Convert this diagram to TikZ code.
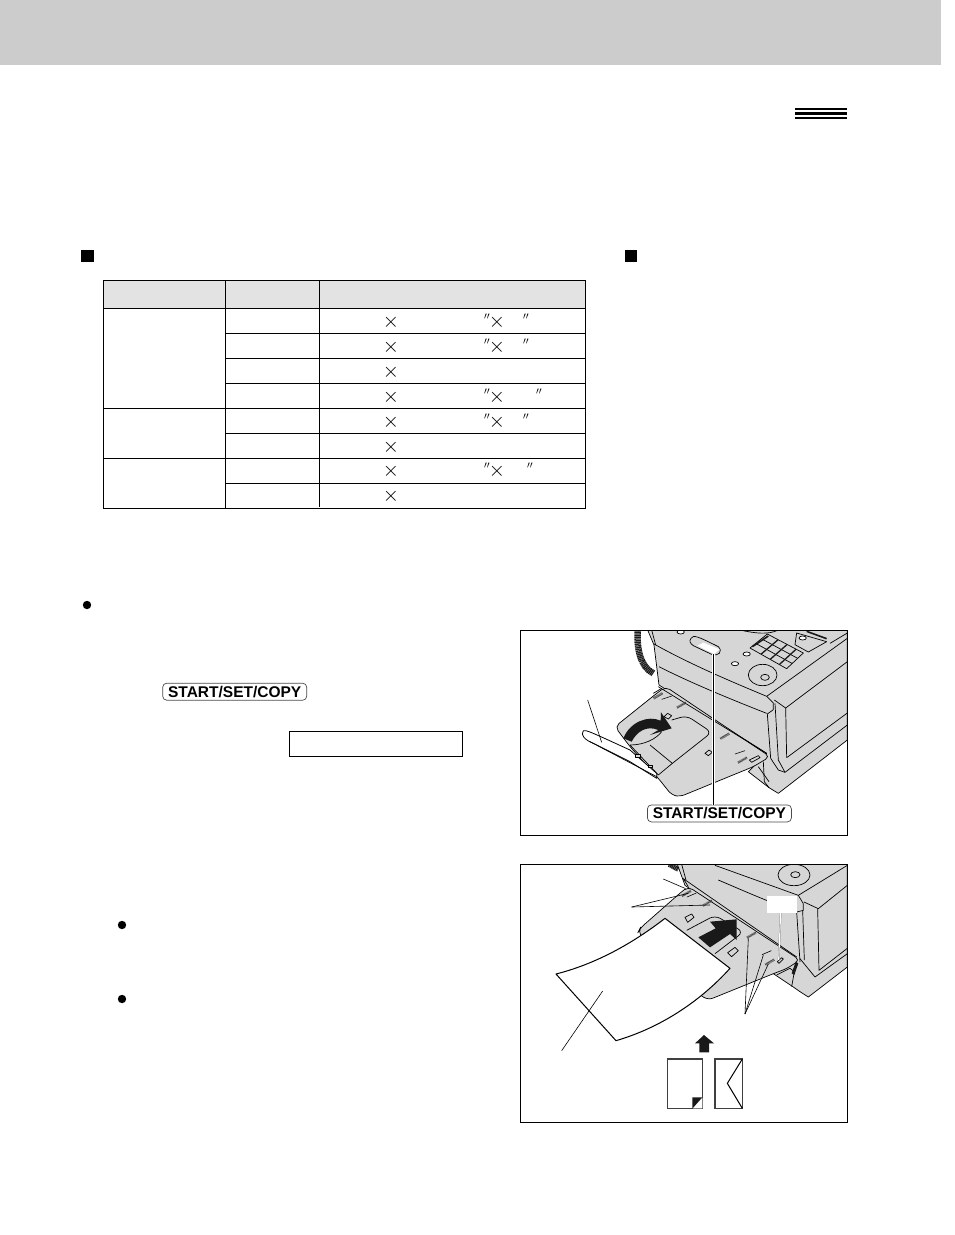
\documentclass[tikz,border=0pt]{standalone}
\usepackage{fontspec}
\setmainfont{Liberation Sans}
\usetikzlibrary{calc}
\definecolor{band}{gray}{0.80}
\definecolor{headcell}{gray}{0.89}
\definecolor{body}{gray}{0.84}
\definecolor{dark}{gray}{0.10}
\tikzset{
  >=latex,
}
\tikzstyle{panel}=[draw=black,line width=1pt]
\tikzstyle{rule}=[line width=1pt]
\tikzstyle{outline}=[line width=.7pt,line join=round]
\tikzstyle{shell}=[outline,fill=body]
\tikzstyle{leader}=[line width=.6pt]
\tikzstyle{hatch}=[line width=2.4pt,black!75,dash pattern=on .6pt off .6pt]
\tikzstyle{keycap}=[draw=black!70,line width=.7pt,rounded corners=4pt,minimum width=144pt,minimum height=17pt,inner sep=0pt,font=\fontsize{15.5}{15.5}\selectfont\bfseries]
\tikzstyle{crossmark}=[inner sep=0pt,font=\fontsize{20.74}{20.74}\selectfont]
\tikzstyle{inchmark}=[inner sep=0pt,font=\fontsize{14.4}{14.4}\selectfont]
\begin{document}
\begin{tikzpicture}[x=1pt,y=-1pt]
  \useasboundingbox (0,0) rectangle (954,1235);
  \fill[white] (0,0) rectangle (954,1235);
  \fill[band] (0,0) rectangle (941,65);
  % top right rule
  \draw[line width=1.2pt] (795,109)--(847,109);
  \draw[line width=3pt] (795,113.5)--(847,113.5);
  \draw[line width=2.2pt] (795,117.8)--(847,117.8);
  % squares and bullets
  \fill (81,249.5) rectangle (93.5,262);
  \fill (624.5,249.5) rectangle (637,262);
  \fill (87,605) circle (4.2);
  \fill (122,925) circle (4.2);
  \fill (122,999) circle (4.2);
  % table
  \fill[headcell] (103.5,280.5) rectangle (585,308.5);
  \draw[rule] (103.5,280.5) rectangle (585,508.5);
  \draw[rule] (103.5,308.5)--(585,308.5);
  \draw[rule] (225.5,333.5)--(585,333.5);
  \draw[rule] (225.5,358.5)--(585,358.5);
  \draw[rule] (225.5,383.5)--(585,383.5);
  \draw[rule] (103.5,408.5)--(585,408.5);
  \draw[rule] (225.5,433.5)--(585,433.5);
  \draw[rule] (103.5,458.5)--(585,458.5);
  \draw[rule] (225.5,483.5)--(585,483.5);
  \draw[rule] (225.5,280.5)--(225.5,508.5);
  \draw[rule] (319.5,280.5)--(319.5,507);
  \foreach \n/\y in {1/322,2/347,3/372,4/397,5/422,6/447,7/471.5,8/496.5}
    \node[crossmark] (cross\n) at (391,\y) {$\times$};
  \foreach \n/\y/\xb in {1/322/526,2/347/526,4/397/539,5/422/526,7/471.5/530}{
    \node[crossmark] (second\n) at (497,\y) {$\times$};
    \node[inchmark] (inch\n) at (487,\y-3) {$''$};
    \node[inchmark] (feet\n) at (\xb,\y-3) {$''$};
  }
  % display box and key
  \draw[panel] (289.5,731.5) rectangle (462.5,756.5);
  \node[keycap] (startkey) at (234.7,691.7) {START/SET/COPY};
  % first picture
  \begin{scope}[shift={(515,625)},scale=1/3]
    \begin{scope}
    \clip (17,15) rectangle (997,630);
    % cord
    \draw[line width=6.5pt,dark,dash pattern=on 1.2pt off .5pt] (368,15)..controls (365,70) and (375,125) .. (415,145);
    % body
    \draw[shell] (398,15)--(417,60)--(432,180)--(755,385)--(700,440)--(762,488)--(790,505)--(997,345)--(997,15)--cycle;
    \draw[outline] (417,57)..controls (530,120) and (650,170) .. (755,214)--(997,40);
    \draw[outline] (755,214)--(775,234)--(775,254)--(757,267)--(767,400);
    \draw[outline] (778,225)--(812,249)--(997,110);
    \draw[outline] (812,249)--(815,398)--(997,264);
    \draw[outline] (780,235)--(790,405)--(810,442)--(997,300);
    \draw[outline] (767,400)--(790,435)--(810,442);
    \draw[outline] (755,265)..controls (640,220) and (520,170) .. (432,125);
    \draw[outline] (410,15)--(422,60);
    \draw[outline] (745,410)--(748,470)--(762,488);
    \draw[outline] (730,425)--(762,470);
    % keypad and dial
    \draw[outline] (705,69)--(757,27)--(865,84)--(815,131)--cycle;
    \foreach \s in {.33,.66}
      \draw[outline] ($(705,69)!\s!(757,27)$)--($(815,131)!\s!(865,84)$);
    \foreach \p/\q in {.3/.3,.55/.55,.8/.8}
      \draw[line width=1.3pt,dark] ($(705,69)!\p!(815,131)$)--($(757,27)!\q!(865,84)$);
    \draw[line width=1.6pt,dark] (712,65)--(760,33);
    \draw[outline] (743,150) ellipse (43 and 32);
    \draw[outline] (750,157) ellipse (13 and 9);
    \foreach \x/\y in {660/116,695/87,863/39,497/21}
      \draw[outline,fill=white] (\x,\y) ellipse (11 and 6);
    \draw[outline] (528,40)..controls (535,28) and (550,35) .. (610,65)..controls (625,80) and (610,95) .. (590,88)--(535,62)..controls (525,55) and (522,48) .. cycle;
    \draw[outline] (845,24)--(935,50)--(880,81)--(840,59)--cycle;
    \draw[line width=1.6pt,dark] (875,19)--(935,41);
    \draw[outline] (675,15)..controls (720,25) and (760,30) .. (790,15);
    \draw[outline] (945,55)--(997,24);
    \fill[white] (548,62)--(565,53)--(614,73)--(597,87)--cycle;
    % tray
    \draw[shell,rounded corners=5pt] (300,305)--(425,205)--(452,185)--(765,395)--(715,425)--(495,515)--(470,510)--(430,460)--(345,365)--cycle;
    \draw[outline] (430,185)--(755,385);
    \draw[outline] (415,205)--(440,190);
    \draw[outline,rounded corners=6pt] (470,285)--(515,272)--(590,322)--(472,415)--(430,450);
    \draw[outline] (405,360)--(472,415);
    \draw[outline] (345,360)--(430,450);
    \draw[outline] (345,360)..controls (390,360) and (425,340) .. (440,320);
    % folded flap
    \draw[line width=.8pt,line join=round,fill=white] (205,317)..controls (215,315) and (225,320) .. (345,375)--(425,445)--(425,460)--(345,410)--(235,355)..controls (210,345) and (195,330) .. cycle;
    \draw[outline] (225,350)--(425,455);
    \foreach \x/\y in {368/392,406/424}
      \draw[outline,fill=body] (\x-7,\y-4) rectangle (\x+7,\y+4);
    % marks on the tray
    \foreach \x/\y in {430/212,500/240,630/333,683/405}
      \draw[hatch] (\x-14,\y+8)--(\x+14,\y-8);
    \foreach \x/\y in {455/218,675/382}
      \draw[leader] (\x-15,\y+5)--(\x+15,\y-5);
    \draw[outline] (570,385)--(582,375)--(592,382)--(580,392)--cycle;
    \draw[outline] (447,275)--(458,265)--(470,272)--(460,282)--cycle;
    \draw[outline] (703,405)--(730,392)--(735,398)--(710,412)--cycle;
    % curved arrow
    \fill[dark] (325,340)..controls (345,290) and (400,270) .. (437,287)--(438,262)--(470,310)--(405,330)--(430,315)..controls (395,300) and (365,320) .. (350,350)--cycle;
    % leaders
    \draw[leader] (218,225)--(260,352);
    \coordinate (startlabel) at (595,87);
    \end{scope}
  \end{scope}
  \draw[panel] (520.7,630) rectangle (847.3,835);
  \node[keycap,fill=white] (copykey) at (719.4,813.4) {START/SET/COPY};
  \draw[white,line width=2.6pt] (startlabel)--(startlabel|-copykey.north);
  \draw[line width=1pt] (startlabel)--(startlabel|-copykey.north);
  % second picture
  \begin{scope}[shift={(515,860)},scale=1/3]
    \begin{scope}
    \clip (17,13) rectangle (997,787);
    \draw[line width=5pt,dark,dash pattern=on 1.2pt off .5pt] (462,13)--(490,28);
    \draw[shell] (487,13)--(510,76)--(845,300)--(775,341)--(835,381)--(855,395)--(880,411)--(997,321)--(997,13)--cycle;
    \draw[outline] (600,16)--(850,106)--(997,16);
    \draw[outline] (850,106)--(865,131)--(865,151)--(845,156)--(855,306);
    \draw[outline] (867,126)--(910,146)--(997,76);
    \draw[outline] (908,146)--(912,331)--(997,265);
    \draw[outline] (863,151)--(868,300);
    \draw[outline] (855,296)--(900,351)--(997,281);
    \draw[outline] (845,156)..controls (760,125) and (680,90) .. (610,60);
    \draw[outline] (500,13)--(513,60);
    \draw[outline] (837,45) ellipse (48 and 32);
    \draw[outline] (841,44) ellipse (14 and 9);
    % tray
    \draw[shell,rounded corners=5pt] (370,215)--(375,205)--(500,95)--(520,80)--(855,300)--(815,326)--(775,341)--(580,420)--(555,405)--(420,300)--cycle;
    \draw[outline] (505,56)--(845,291);
    \draw[outline] (520,80)--(505,56);
    \draw[outline,rounded corners=6pt] (515,211)--(600,166)--(685,216)--(600,281);
    \draw[outline] (510,172)--(530,162)--(537,172)--(518,187)--cycle;
    \draw[outline] (638,278)--(660,262)--(670,272)--(650,290)--cycle;
    \foreach \x/\y in {515/100,578/129,710/225,765/306}
      \draw[hatch] (\x-14,\y+8)--(\x+14,\y-8);
    \foreach \x/\y in {530/105,755/278}
      \draw[leader] (\x-14,\y+6)--(\x+14,\y-6);
    \draw[outline] (785,345)--(825,325)--(838,335)--(830,380);
    \fill[dark] (830,340)--(842,305)--(850,310)--(838,345)--cycle;
    \draw[outline] (787,305)--(800,293)--(805,297)--(792,310)--cycle;
    % paper
    \draw[line width=1pt,fill=white,line join=round] (450,175)..controls (340,260) and (230,315) .. (123,342)--(303,542)..controls (430,505) and (550,430) .. (645,325)--cycle;
    % arrow on tray
    \fill[dark] (550,232)--(602,205)--(585,185)--(665,178)--(665,240)--(645,222)--(585,262)--cycle;
    % leaders
    \draw[leader] (445,57)--(510,85);
    \coordinate (guidehub) at (350,141);
    \draw[leader] (guidehub)--(520,100);
    \draw[leader] (guidehub)--(585,135);
    \coordinate (sidehub) at (690,462);
    \draw[leader] (sidehub)--(700,235);
    \draw[leader] (sidehub)--(745,285);
    \draw[leader] (sidehub)--(760,312);
    \draw[leader] (263,393)--(140,572);
    \draw[black!60,line width=1.6pt] (797,158)--(791,300);
    \draw[white,line width=1.1pt] (797,158)--(791,300);
    \fill[white] (755,107) rectangle (845,158);
    % direction arrow and icons
    \fill[dark] (540,550)--(567,525)--(597,550)--(582,550)--(582,577)--(553,577)--(553,550)--cycle;
    \draw[line width=1.2pt,black!75] (457,597) rectangle (562,745);
    \fill[white] (534,745)--(562,745)--(562,714)--cycle;
    \fill[dark] (532,746)--(562,712)--(532,712)--cycle;
    \draw[line width=1.2pt,black!75] (600,597) rectangle (682,745);
    \draw[line width=1pt] (682,597)--(637,670)--(682,745);
    \end{scope}
  \end{scope}
  \draw[panel] (520.7,864.3) rectangle (847.3,1122.3);
\end{tikzpicture}
\end{document}
